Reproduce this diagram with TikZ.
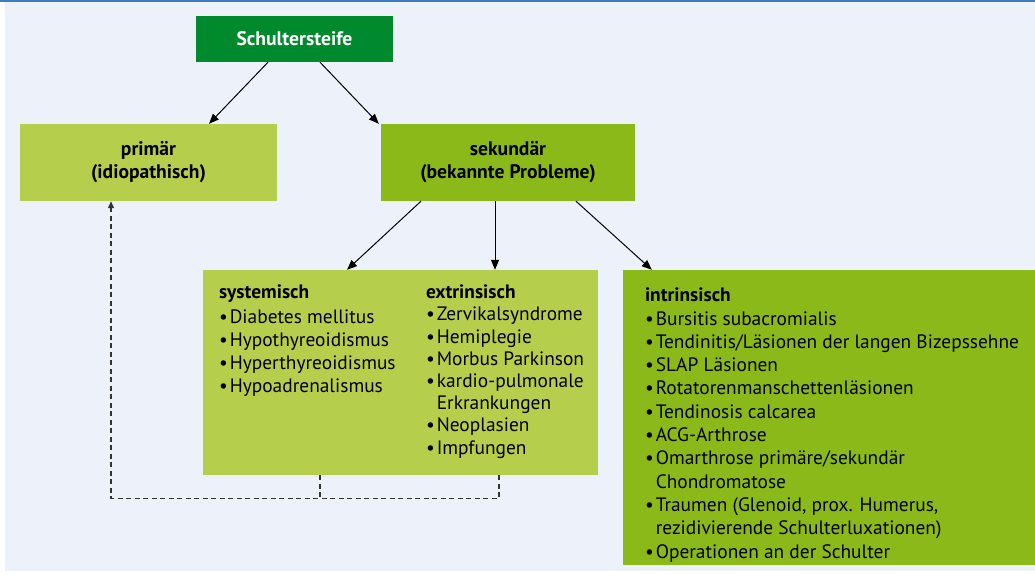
\documentclass[tikz,border=0pt]{standalone}
\usepackage{fontspec}
\setmainfont{PT Sans}
\usetikzlibrary{arrows.meta,positioning,calc}
\definecolor{bgblue}{HTML}{EDF1F9}
\definecolor{topline}{HTML}{3F7BBF}
\definecolor{darkgr}{HTML}{008A2D}
\definecolor{lightgr}{HTML}{B5CF4D}
\definecolor{midgr}{HTML}{8CB91A}
\definecolor{dashgray}{HTML}{333333}
\newcommand{\bul}{\textbullet\hspace{2pt}}
\newcommand{\contind}{\hphantom{\textbullet\hspace{2pt}}}

\begin{document}
\begin{tikzpicture}[x=1pt, y=-1pt,
    box/.style={inner sep=0pt, align=center,
      font=\fontsize{19.6}{23}\selectfont\bfseries},
    panel/.style={inner sep=0pt},
    lst/.style={inner sep=0pt, anchor=north west, align=left,
      font=\fontsize{19.4}{23}\selectfont},
    arr/.style={-{Triangle[length=10pt,width=8pt]}, line width=1pt},
    dline/.style={dash pattern=on 5pt off 3.5pt, line width=1.2pt,
      draw=dashgray, -{Triangle[length=7pt,width=6pt]}}]
  % --- Background ---
  \useasboundingbox (0,0) rectangle (1035,575);
  \fill[white] (0,0) rectangle (1035,575);
  \fill[bgblue] (5,2) rectangle (1035,571);
  \draw[topline, line width=2pt] (0,1) -- (1035,1);
  % --- Boxes ---
  \node[box, fill=darkgr, text=white, minimum width=197pt,
        minimum height=46pt] (top) at (294.5,39) {Schultersteife};
  \node[box, fill=lightgr, minimum width=257pt, minimum height=77pt]
    (prim) at (148.5,162.5) {primär\\(idiopathisch)};
  \node[box, fill=midgr, minimum width=254pt, minimum height=77pt]
    (sek) at (508,162.5) {sekundär\\(bekannte Probleme)};
  \node[panel, fill=lightgr, minimum width=395pt, minimum height=205pt]
    (sys) at (400.5,372.5) {};
  \node[panel, fill=midgr, minimum width=412pt, minimum height=295pt]
    (intr) at (829,417.5) {};
  % --- Lists ---
  \node[lst] (sysl) at ([xshift=16pt, yshift=-15pt]sys.north west)
    {\textbf{systemisch}\\[2pt]
     \bul Diabetes mellitus\\
     \bul Hypothyreoidismus\\
     \bul Hyperthyreoidismus\\
     \bul Hypoadrenalismus};
  \node[lst, font=\fontsize{19.4}{22.2}\selectfont] (extl)
    at ([xshift=223pt, yshift=-15pt]sys.north west)
    {\textbf{extrinsisch}\\
     \bul Zervikalsyndrome\\
     \bul Hemiplegie\\
     \bul Morbus Parkinson\\
     \bul kardio-pulmonale\\
     \contind Erkrankungen\\
     \bul Neoplasien\\
     \bul Impfungen};
  \node[lst, font=\fontsize{19.4}{23.3}\selectfont] (intrl)
    at ([xshift=22pt, yshift=-18pt]intr.north west)
    {\textbf{intrinsisch}\\
     \bul Bursitis subacromialis\\
     \bul Tendinitis/Läsionen der langen Bizepssehne\\
     \bul SLAP Läsionen\\
     \bul Rotatorenmanschettenläsionen\\
     \bul Tendinosis calcarea\\
     \bul ACG-Arthrose\\
     \bul Omarthrose primäre/sekundär\\
     \contind Chondromatose\\
     \bul Traumen (Glenoid, prox. Humerus,\\
     \contind rezidivierende Schulterluxationen)\\
     \bul Operationen an der Schulter};
  % --- Arrows ---
  \draw[arr] ([xshift=-26.5pt]top.south) -- ([xshift=60.5pt]prim.north);
  \draw[arr] ([xshift=25.5pt]top.south) -- ([xshift=-2pt]sek.north west);
  \draw[arr] ([xshift=-87pt]sek.south) -- ([xshift=-53.5pt]sys.north);
  \draw[arr] ([xshift=-13pt]sek.south) -- ([xshift=94.5pt]sys.north);
  \draw[arr] ([xshift=68pt]sek.south) -- ([xshift=29pt]intr.north west);
  % --- Dashed feedback ---
  \coordinate (join) at ([xshift=-80.5pt, yshift=-23pt]sys.south);
  \draw[dline, -] ([xshift=-80.5pt]sys.south) -- (join);
  \draw[dline] ([xshift=98.5pt]sys.south) |- (join)
    -| ([xshift=-37.5pt]prim.south);
\end{tikzpicture}
\end{document}
